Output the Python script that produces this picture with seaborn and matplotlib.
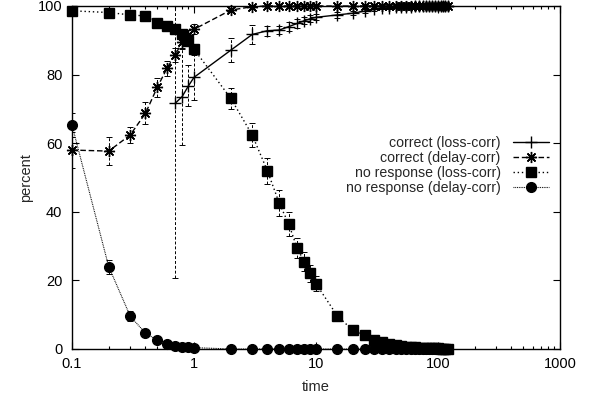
import matplotlib
matplotlib.use("Agg")
import matplotlib.pyplot as plt
import seaborn as sns
import numpy as np
import pandas as pd
from matplotlib.ticker import FixedLocator, LogLocator, NullFormatter, FuncFormatter

sns.set_style("ticks")
plt.rcParams['font.family'] = ['Liberation Sans', 'DejaVu Sans']

# ---------------- data ----------------
x_tail = [30, 35, 40, 45, 50, 55, 60, 65, 70, 75, 80, 85, 90, 95, 100, 105, 110, 115, 120]
x_mid = [2, 3, 4, 5, 6, 7, 8, 9, 10, 15, 20, 25]
x_early = [0.1, 0.2, 0.3, 0.4, 0.5, 0.6, 0.7, 0.8, 0.9, 1.0]

# correct (loss-corr)
loss_correct_x = [0.7, 0.8, 0.9, 1.0] + x_mid + x_tail
loss_correct_y = [71.6, 73.6, 76.7, 79.2,
                  87.1, 91.7, 92.8, 93.0, 94.0, 94.9, 95.7, 96.3, 96.7, 97.4, 97.9, 98.5,
                  99.0, 99.3, 99.5, 99.6, 99.7, 99.8, 99.8, 99.9, 99.9, 99.9, 99.9, 100, 100,
                  100, 100, 100, 100, 100, 100]
loss_correct_err = [51, 14, 6, 6.5,
                    3.5, 2.7, 1.5, 1.3, 1.2, 1.2, 1.0, 1.0, 0.9, 0.8, 0.6, 0.5,
                    0.4, 0.3, 0.3, 0.3, 0.2, 0.2, 0.2, 0.2, 0.1, 0.1, 0.1, 0.1, 0.1,
                    0.1, 0.1, 0.1, 0.1, 0.1, 0.1]

# correct (delay-corr)
delay_correct_x = x_early + x_mid + x_tail
delay_correct_y = [58.0, 57.7, 62.4, 68.7, 76.3, 81.8, 85.7, 89.5, 91.5, 93.2,
                   98.8, 99.8, 100, 100, 100, 100, 100, 100, 100, 100, 100, 100,
                   100, 100, 100, 100, 100, 100, 100, 100, 100, 100, 100, 100, 100,
                   100, 100, 100, 100, 100, 100]
delay_correct_err = [5.3, 4.0, 2.2, 3.2, 2.7, 2.2, 2.0, 1.8, 1.6, 1.5,
                     0.5, 0.2, 0, 0, 0, 0, 0, 0, 0, 0, 0, 0,
                     0, 0, 0, 0, 0, 0, 0, 0, 0, 0, 0, 0, 0, 0, 0, 0, 0, 0, 0]

# no response (loss-corr)
loss_noresp_x = x_early + x_mid + x_tail
loss_noresp_y = [98.6, 98.1, 97.4, 97.1, 95.1, 94.2, 93.2, 91.8, 89.8, 87.4,
                 73.1, 62.4, 51.9, 42.5, 36.3, 29.4, 25.5, 22.1, 19.0, 9.6, 5.5, 4.1,
                 2.6, 1.9, 1.4, 1.1, 0.9, 0.7, 0.6, 0.5, 0.4, 0.4, 0.3, 0.3, 0.2, 0.2,
                 0.2, 0.1, 0.1, 0.1, 0.1]
loss_noresp_err = [0.5, 0.5, 0.6, 0.6, 0.8, 0.8, 1.0, 1.0, 1.2, 1.5,
                   3.0, 3.5, 3.8, 3.8, 3.5, 3.0, 2.8, 2.5, 2.2, 1.5, 1.0, 0.8,
                   0.6, 0.5, 0.4, 0.3, 0.3, 0.2, 0.2, 0.2, 0.1, 0.1, 0.1, 0.1, 0.1, 0.1,
                   0.1, 0.1, 0.1, 0.1, 0.1]

# no response (delay-corr)
delay_noresp_x = x_early + x_mid + x_tail
delay_noresp_y = [65.3, 24.0, 9.6, 4.6, 2.6, 1.6, 1.0, 0.7, 0.5, 0.4,
                  0, 0, 0, 0, 0, 0, 0, 0, 0, 0, 0, 0,
                  0, 0, 0, 0, 0, 0, 0, 0, 0, 0, 0, 0, 0, 0, 0, 0, 0, 0, 0]
delay_noresp_err = [3.5, 2.0, 1.5, 0.8, 0.5, 0.4, 0.3, 0.2, 0.2, 0.1,
                    0, 0, 0, 0, 0, 0, 0, 0, 0, 0, 0, 0,
                    0, 0, 0, 0, 0, 0, 0, 0, 0, 0, 0, 0, 0, 0, 0, 0, 0, 0, 0]

labels = ["correct (loss-corr)", "correct (delay-corr)",
          "no response (loss-corr)", "no response (delay-corr)"]
x_ticks = [0.1, 1, 10, 100, 1000]
y_ticks = [0, 20, 40, 60, 80, 100]

# ---------------- plot ----------------
FS = 10.5
fig = plt.figure(figsize=(5.89, 4.0), dpi=100)
ax = fig.add_axes([72 / 589, 51 / 400, 488 / 589, 343 / 400])

series = [
    (loss_correct_x, loss_correct_y, loss_correct_err, labels[0], '-', '+', 8, 1.0),
    (delay_correct_x, delay_correct_y, delay_correct_err, labels[1], (0, (4, 2)), (8, 2, 0), 8, 1.0),
    (loss_noresp_x, loss_noresp_y, loss_noresp_err, labels[2], (0, (1, 2)), 's', 7.5, 1.0),
    (delay_noresp_x, delay_noresp_y, delay_noresp_err, labels[3], (0, (0.8, 0.8)), 'o', 7, 0.8),
]

for xs, ys, es, lab, ls, mk, ms, lw in series:
    df = pd.DataFrame({"time": xs, "percent": ys})
    eb = ax.errorbar(df["time"], df["percent"], yerr=es, fmt='none', ecolor='black',
                     elinewidth=0.7, capsize=2.2, capthick=0.7)
    for lc in eb[2]:
        lc.set_linestyle((0, (3, 2)))
    sns.lineplot(data=df, x="time", y="percent", ax=ax, color='black', linestyle=ls,
                 linewidth=lw, marker=mk, markersize=ms, markeredgewidth=1.0,
                 markeredgecolor='black', markerfacecolor='black',
                 estimator=None, sort=False, label=lab)
    ax.lines[-1].set_clip_on(False)

ax.set_xscale('log')
ax.set_xlim(0.1, 1000)
ax.set_ylim(0, 100)
ax.xaxis.set_major_locator(FixedLocator(x_ticks))
ax.xaxis.set_major_formatter(FuncFormatter(lambda v, p: '%g' % v))
ax.xaxis.set_minor_locator(LogLocator(base=10, subs=np.arange(2, 10)))
ax.xaxis.set_minor_formatter(NullFormatter())
ax.yaxis.set_major_locator(FixedLocator(y_ticks))

ax.tick_params(which='both', direction='in', top=True, right=True, labelsize=FS,
               colors='black', width=0.8)
ax.tick_params(which='major', length=5)
ax.tick_params(which='minor', length=2.5)
ax.tick_params(axis='x', which='major', pad=6)
ax.tick_params(axis='y', which='major', pad=7)
for s in ax.spines.values():
    s.set_linewidth(1.0)
    s.set_color('black')
    s.set_visible(True)

ax.set_xlabel("time", fontsize=FS, labelpad=6)
ax.set_ylabel("percent", fontsize=FS, labelpad=3)

leg = ax.legend(loc='center right', bbox_to_anchor=(0.977, 0.535), frameon=False,
                markerfirst=False, fontsize=10.2, handlelength=2.5, handletextpad=0.9,
                labelspacing=0.08, borderpad=0, borderaxespad=0)

fig.savefig("out.png", dpi=100)
